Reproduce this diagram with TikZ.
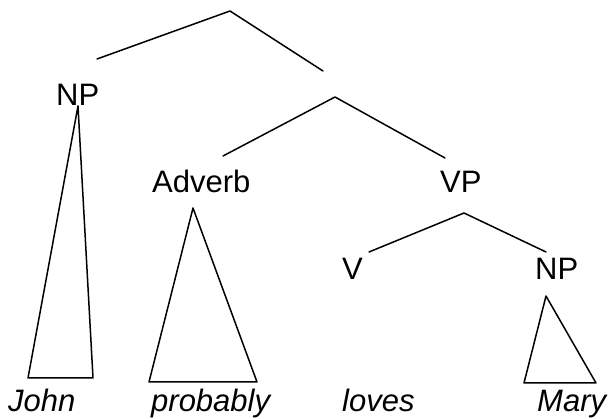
\documentclass[tikz,border=0pt]{standalone}
\usepackage{fontspec}
\setmainfont{Liberation Sans}
\begin{document}
\begin{tikzpicture}[x=1pt,y=-1pt,
  branch/.style={line width=1.5pt, line cap=round, line join=round},
  cat/.style={anchor=base west, inner sep=0pt, font=\fontsize{31}{31}\selectfont},
  word/.style={cat, font=\fontsize{31}{31}\selectfont\itshape}]
\useasboundingbox (0,0) rectangle (608,419);

% category labels
\node[cat] (np1) at (56,106) {NP};
\node[cat] (adv) at (152,193) {Adverb};
\node[cat] (vp)  at (440,193) {VP};
\node[cat] (v)   at (342,280) {V};
\node[cat] (np2) at (535,280) {NP};

% words
\node[word] (john) at (8,412) {John};
\node[word] (prob) at (151,412) {probably};
\node[word] (lov)  at (342,412) {loves};
\node[word] (mary) at (537,412) {Mary};

% branch points and ends
\coordinate (s)   at (230,11);
\coordinate (sL)  at (97,59);
\coordinate (sR)  at (323,71);
\coordinate (x)   at (335,97);
\coordinate (xL)  at (223,156);
\coordinate (xR)  at (445,158);
\coordinate (vpt) at (464,213);
\coordinate (vpL) at (369,252);
\coordinate (vpR) at (546,252);

\draw[branch] (sL) -- (s) -- (sR);
\draw[branch] (xL) -- (x) -- (xR);
\draw[branch] (vpL) -- (vpt) -- (vpR);

% triangles over the words
\coordinate (t1) at (78,106);
\coordinate (t2) at (193,208);
\coordinate (t3) at (546,296);
\draw[branch] (t1) -- (28,378) -- (93,378) -- cycle;
\draw[branch] (t2) -- (149,382) -- (257,382) -- cycle;
\draw[branch] (t3) -- (524,383) -- (596,383) -- cycle;
\end{tikzpicture}
\end{document}
